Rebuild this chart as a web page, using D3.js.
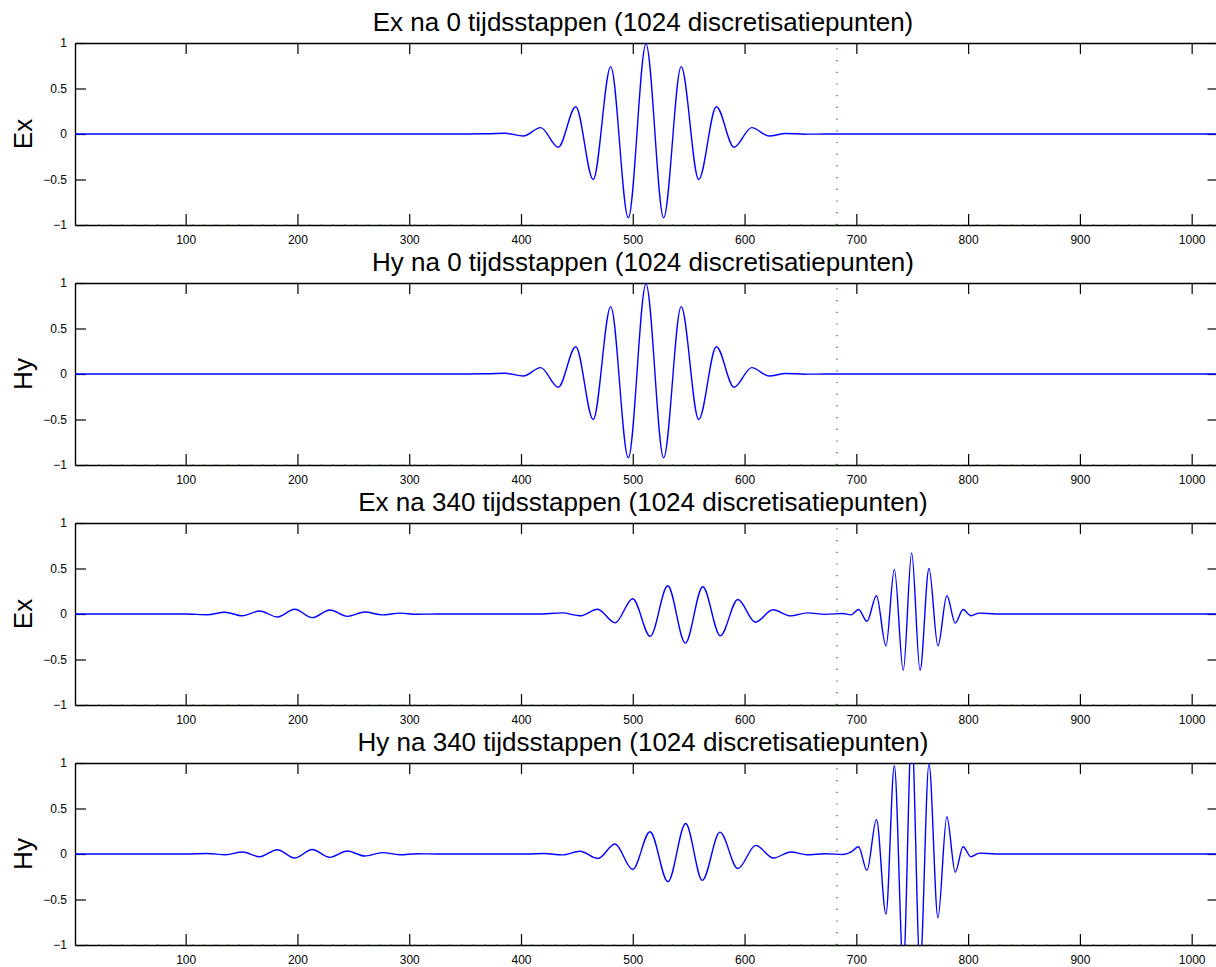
<!DOCTYPE html>
<html>
<head>
<meta charset="utf-8">
<script src="https://cdn.jsdelivr.net/npm/d3@7"></script>
<style>
  html, body { margin: 0; padding: 0; background: #fff; }
  svg { display: block; font-family: 'Liberation Sans', Arial, Helvetica, sans-serif; }
</style>
</head>
<body>
<div id="chart"></div>
<script>
// values: [gridpoint, field value] at the extrema of each wave
const exStart = [
  [1, 0], [350, 0], [370, 0.002], [386, 0.008], [402, -0.022], [417.6, 0.07], [433.3, -0.146],
  [449, 0.30], [464.6, -0.50], [480.3, 0.74], [496, -0.92], [511.8, 0.99], [527.6, -0.92],
  [543.3, 0.74], [559, -0.50], [574.8, 0.30], [590.6, -0.146], [606.4, 0.07], [622, -0.022],
  [637, 0.006], [654, -0.002], [675, 0], [1024, 0]
];
const hyStart = [
  [1, 0], [350, 0], [370, 0.002], [386, 0.008], [402, -0.022], [417.6, 0.07], [433.3, -0.146],
  [449, 0.30], [464.6, -0.50], [480.3, 0.74], [496, -0.92], [511.8, 0.99], [527.6, -0.92],
  [543.3, 0.74], [559, -0.50], [574.8, 0.30], [590.6, -0.146], [606.4, 0.07], [622, -0.022],
  [637, 0.006], [654, -0.002], [675, 0], [1024, 0]
];
const exLater = [
  [1, 0], [100, 0], [119.4, -0.008], [135, 0.02], [150.7, -0.02], [166.3, 0.033], [182, -0.033],
  [197.6, 0.052], [213.3, -0.04], [229, 0.044], [244.7, -0.026], [260.3, 0.022], [276, -0.01],
  [291.6, 0.01], [307, -0.003], [325, 0], [415, 0], [437, 0.012], [452.8, -0.02], [468.5, 0.052],
  [484.2, -0.097], [499.9, 0.168], [515.6, -0.245], [531.3, 0.31], [547, -0.32], [562.6, 0.30],
  [578.3, -0.24], [594, 0.16], [609.7, -0.09], [625.4, 0.046], [641, -0.021], [656.4, 0.012],
  [672, -0.004], [688, 0.006], [695, -0.01], [702, 0.05], [709.5, -0.08], [718, 0.2],
  [726.5, -0.35], [734, 0.49], [742, -0.62], [749.5, 0.67], [757, -0.62], [765, 0.5],
  [773, -0.35], [781, 0.2], [788.5, -0.1], [795.5, 0.05], [802.5, -0.02], [810, 0.01],
  [825, 0], [1024, 0]
];
const hyLater = [
  [1, 0], [100, 0], [119.4, 0.005], [135.8, -0.008], [150.7, 0.022], [166.2, -0.03], [182, 0.047],
  [197.5, -0.044], [213.3, 0.05], [228.8, -0.037], [244.7, 0.033], [260.1, -0.022], [276, 0.015],
  [291.5, -0.008], [307, 0.003], [325, 0], [405, 0], [420.5, 0.005], [437, -0.01], [452.8, 0.03],
  [468.9, -0.05], [484, 0.11], [499.9, -0.17], [515.4, 0.245], [531.5, -0.305], [547.3, 0.335],
  [562.2, -0.29], [578, 0.24], [594, -0.16], [610, 0.095], [625.8, -0.044], [641.3, 0.022],
  [656, -0.008], [672, 0.003], [688, -0.005], [695, 0.02], [702, 0.08], [709.5, -0.18],
  [718, 0.38], [726.5, -0.66], [734, 0.97], [742, -1.24], [749.5, 1.33], [757, -1.24],
  [765, 0.99], [773, -0.7], [781, 0.41], [788.5, -0.2], [795.5, 0.08], [802.5, -0.03],
  [810, 0.01], [825, 0], [1024, 0]
];

const panelSeries = [exStart, hyStart, exLater, hyLater];
const panelTitles = [
  'Ex na 0 tijdsstappen (1024 discretisatiepunten)',
  'Hy na 0 tijdsstappen (1024 discretisatiepunten)',
  'Ex na 340 tijdsstappen (1024 discretisatiepunten)',
  'Hy na 340 tijdsstappen (1024 discretisatiepunten)'
];
const panelLabels = ['Ex', 'Hy', 'Ex', 'Hy'];
const xTicks = [100, 200, 300, 400, 500, 600, 700, 800, 900, 1000];
const yTicks = [-1, -0.5, 0, 0.5, 1];
const xDomain = [1, 1024];
const interfaceX = 682.7;

const width = 1216;
const height = 967;
const margin = { left: 75, right: -2.5 };
const panelTop = [43, 283, 523, 763];
const panelHeight = 182;
const tickLen = 11;

const svg = d3.select('#chart')
  .append('svg')
  .attr('width', width)
  .attr('height', height);

const x = d3.scaleLinear()
  .domain(xDomain)
  .range([margin.left, width - margin.right]);

const fmt = (d) => (d < 0 ? '\u2212' : '') + Math.abs(d);

panelSeries.forEach((series, i) => {
  const top = panelTop[i];
  const y = d3.scaleLinear().domain([-1, 1]).range([top + panelHeight, top]);
  const g = svg.append('g').attr('class', `panel panel-${i}`);

  g.append('clipPath')
    .attr('id', `clip-${i}`)
    .append('rect')
    .attr('x', x.range()[0])
    .attr('y', top)
    .attr('width', x.range()[1] - x.range()[0])
    .attr('height', panelHeight);

  // box with inward ticks on all four sides
  const axes = [
    { axis: d3.axisBottom(x).tickValues(xTicks).tickFormat(d3.format('d')), t: `translate(0,${top + panelHeight})`, pad: 10 },
    { axis: d3.axisTop(x).tickValues(xTicks).tickFormat(''), t: `translate(0,${top})`, pad: 3 },
    { axis: d3.axisLeft(y).tickValues(yTicks).tickFormat(fmt), t: `translate(${x.range()[0]},0)`, pad: 8 },
    { axis: d3.axisRight(y).tickValues(yTicks).tickFormat(''), t: `translate(${x.range()[1]},0)`, pad: 3 }
  ];
  axes.forEach(({ axis, t, pad }) => {
    const a = g.append('g')
      .attr('transform', t)
      .call(axis.tickSizeInner(-tickLen).tickSizeOuter(0).tickPadding(pad));
    a.select('.domain').attr('stroke', '#000').attr('stroke-width', 1.4);
    a.selectAll('.tick line').attr('stroke', '#000').attr('stroke-width', 1.2);
    a.selectAll('.tick text')
      .attr('fill', '#000')
      .attr('font-size', '12px')
      .attr('font-family', "'Liberation Sans', Arial, sans-serif");
  });

  const line = d3.line()
    .x((d) => x(d[0]))
    .y((d) => y(d[1]))
    .curve(d3.curveMonotoneX);

  g.append('path')
    .datum(series)
    .attr('clip-path', `url(#clip-${i})`)
    .attr('fill', 'none')
    .attr('stroke', '#0000ff')
    .attr('stroke-width', 1.4)
    .attr('d', line);

  // dotted marker of the interface, plus the dotted baseline at -1
  g.append('line')
    .attr('x1', x(interfaceX))
    .attr('x2', x(interfaceX))
    .attr('y1', y(-1))
    .attr('y2', y(1))
    .attr('stroke', '#006400')
    .attr('stroke-width', 1.2)
    .attr('stroke-dasharray', '1.2,10.5');

  g.append('line')
    .attr('x1', x(xDomain[0]))
    .attr('x2', x(xDomain[1]))
    .attr('y1', y(-1))
    .attr('y2', y(-1))
    .attr('stroke', '#006400')
    .attr('stroke-width', 1.2)
    .attr('stroke-dasharray', '1.2,10.5');

  g.append('text')
    .attr('x', 643)
    .attr('y', top - 12)
    .attr('text-anchor', 'middle')
    .attr('font-size', '26px')
    .attr('fill', '#000')
    .text(panelTitles[i]);

  g.append('text')
    .attr('transform', `translate(32,${top + panelHeight / 2}) rotate(-90)`)
    .attr('text-anchor', 'middle')
    .attr('font-size', '26px')
    .attr('fill', '#000')
    .text(panelLabels[i]);
});
</script>
</body>
</html>
